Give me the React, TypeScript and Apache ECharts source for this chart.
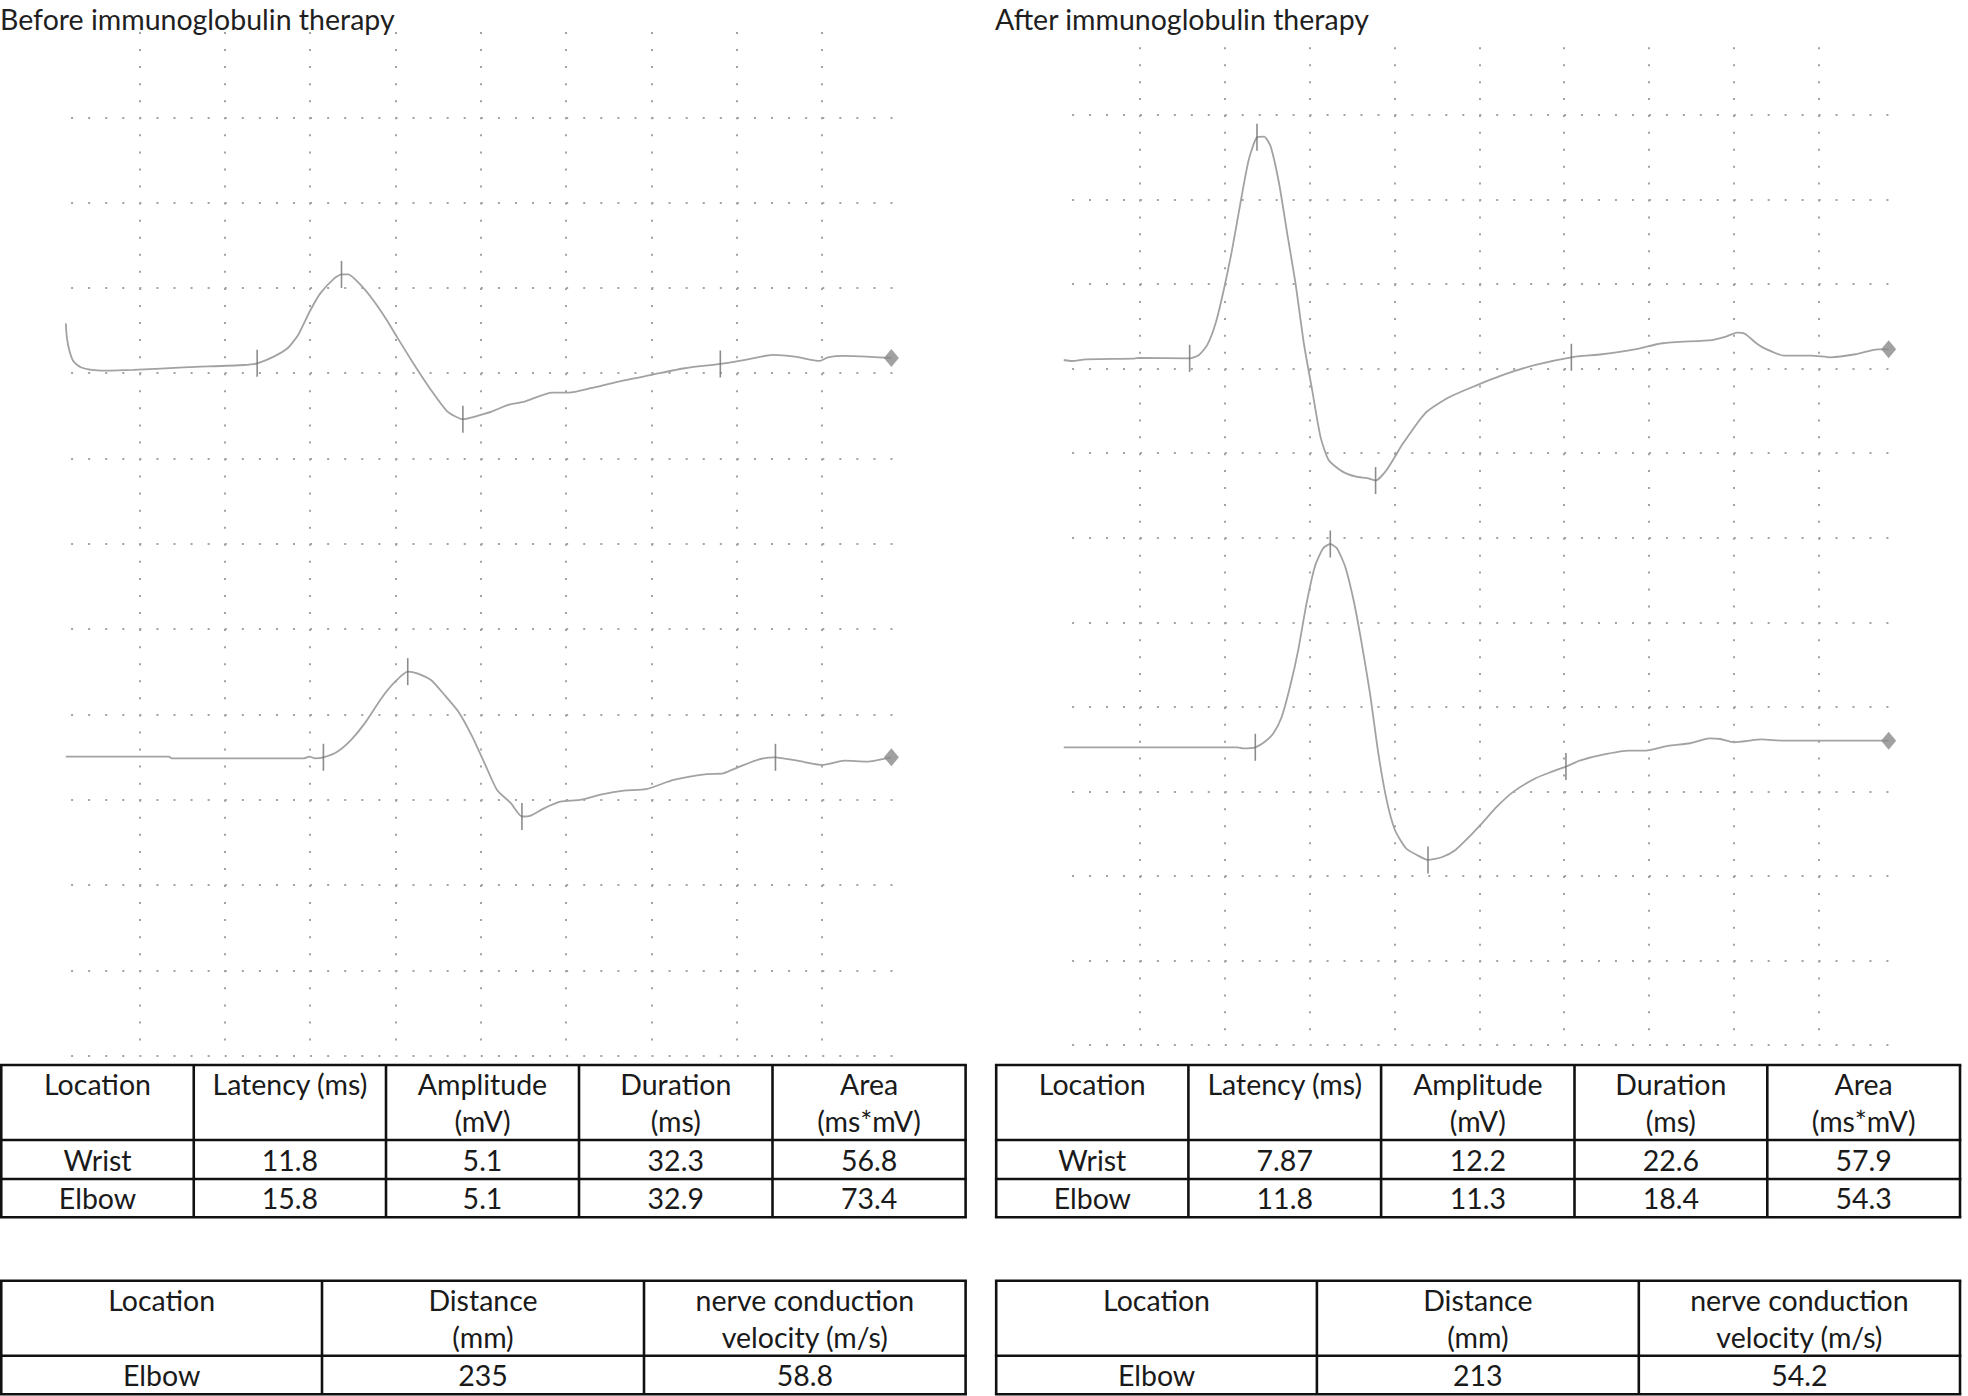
import React, { useEffect, useRef } from "react";
import * as echarts from "echarts";

const W = 1968;
const H = 1396;

// ---------- data ----------
const panelTitles = ["Before immunoglobulin therapy", "After immunoglobulin therapy"];
const sweepMs = [0, 50];
const msPerDiv = 5;
const mvPerDiv = 5;

// traces: [time (ms), amplitude (mV) relative to the trace baseline]
const beforeWrist: [number, number][] = [
  [0.69, 2.34], [0.76, 1.46], [0.92, 0.68], [1.15, 0.1], [1.57, -0.23], [2.21, -0.39], [3.02, -0.43],
  [4.63, -0.39], [7.87, -0.23], [11.1, -0.1], [11.9, 0], [12.87, 0.39], [13.68, 0.88], [14.3, 1.66],
  [14.97, 3.02], [15.6, 4.1], [16.42, 4.98], [16.84, 5.21], [17.23, 5.21], [17.88, 4.68], [18.69, 3.71],
  [19.49, 2.54], [20.14, 1.46], [21.11, -0.1], [22.08, -1.56], [23.05, -2.83], [23.95, -3.28],
  [24.66, -3.12], [25.63, -2.83], [26.6, -2.44], [27.57, -2.24], [29.18, -1.72], [30.15, -1.72],
  [31.44, -1.46], [33.06, -1.07], [35.0, -0.68], [36.94, -0.29], [39.03, -0.04], [40.49, 0.2],
  [42.1, 0.49], [43.4, 0.39], [44.85, 0.14], [45.33, 0.35], [46.3, 0.43], [47.6, 0.39], [49.05, 0.31],
];
const beforeWristMarks: [number, number][] = [[11.9, 0], [16.84, 5.21], [23.95, -3.28], [39.03, -0.04]];

const beforeElbow: [number, number][] = [
  [0.69, 0.04], [6.73, 0.04], [6.9, -0.06], [14.65, -0.06], [14.97, 0.04], [15.29, -0.06], [15.78, 0],
  [16.59, 0.33], [17.39, 1.01], [18.2, 1.99], [19.17, 3.45], [19.98, 4.43], [20.72, 5.02], [21.27, 4.92],
  [22.08, 4.53], [22.88, 3.65], [23.69, 2.67], [24.5, 1.21], [25.31, -0.55], [25.95, -1.91], [26.76, -2.69],
  [27.41, -3.47], [27.89, -3.43], [28.7, -2.99], [29.67, -2.6], [30.8, -2.5], [32.09, -2.17], [33.38, -1.95],
  [34.67, -1.87], [36.29, -1.33], [38.23, -0.98], [39.2, -0.94], [40.16, -0.55], [41.3, -0.12], [42.26, 0],
  [43.55, -0.2], [45.0, -0.45], [46.3, -0.2], [47.6, -0.25], [49.05, 0],
];
const beforeElbowMarks: [number, number][] = [[15.78, 0], [20.72, 5.02], [27.41, -3.47], [42.26, 0]];

const afterWrist: [number, number][] = [
  [0.51, -0.1], [1.0, -0.16], [1.81, -0.06], [4.58, -0.02], [4.9, 0.02], [7.93, 0], [8.48, 0.2], [8.97, 0.79],
  [9.46, 2.07], [9.94, 4.04], [10.43, 6.41], [10.92, 9.16], [11.41, 11.73], [11.9, 13.07], [12.32, 13.11],
  [12.71, 12.51], [13.2, 10.35], [13.68, 7.39], [14.17, 4.43], [14.66, 0.89], [15.15, -1.87], [15.64, -4.63],
  [16.12, -6.01], [16.94, -6.7], [17.75, -7.0], [18.4, -7.09], [18.89, -7.23], [19.54, -6.6], [20.51, -5.03],
  [21.81, -3.25], [23.11, -2.36], [24.42, -1.77], [26.37, -0.99], [28.32, -0.39], [30.43, 0.06], [32.22, 0.24],
  [34.17, 0.53], [35.8, 0.89], [38.72, 1.08], [39.54, 1.28], [40.19, 1.52], [40.68, 1.44], [41.33, 0.89],
  [41.81, 0.59], [42.95, 0.16], [44.58, 0.16], [45.72, 0.06], [47.18, 0.24], [48.48, 0.53], [49.13, 0.53],
];
const afterWristMarks: [number, number][] = [[7.93, 0], [11.9, 13.07], [18.89, -7.23], [30.43, 0.06]];

const afterElbow: [number, number][] = [
  [0.51, 0], [10.76, 0], [11.08, -0.06], [11.8, 0], [12.38, 0.34], [12.87, 0.83], [13.36, 1.81], [13.85, 3.59],
  [14.33, 5.75], [14.82, 8.51], [15.31, 10.68], [15.8, 11.77], [16.22, 12.02], [16.61, 11.77], [17.1, 10.68],
  [17.59, 8.71], [18.07, 6.15], [18.56, 3.19], [19.05, -0.35], [19.54, -3.11], [20.03, -4.89], [20.68, -5.97],
  [21.33, -6.37], [21.98, -6.66], [22.79, -6.5], [23.6, -6.07], [24.42, -5.28], [25.07, -4.59], [26.04, -3.51],
  [27.02, -2.62], [28.32, -1.83], [29.29, -1.44], [30.11, -1.14], [30.92, -0.79], [32.22, -0.45], [33.85, -0.2],
  [34.82, -0.2], [36.12, 0.08], [37.42, 0.24], [38.56, 0.53], [39.21, 0.49], [40.02, 0.3], [41.65, 0.47],
  [42.95, 0.39], [45.23, 0.39], [49.13, 0.39],
];
const afterElbowMarks: [number, number][] = [[11.8, 0], [16.22, 12.02], [21.98, -6.66], [30.11, -1.14]];

// tables
const ampHeaders = [["Location"], ["Latency (ms)"], ["Amplitude", "(mV)"], ["Duration", "(ms)"], ["Area", "(ms*mV)"]];
const ampRowLabels = ["Wrist", "Elbow"];
const beforeAmpValues = [["11.8", "5.1", "32.3", "56.8"], ["15.8", "5.1", "32.9", "73.4"]];
const afterAmpValues = [["7.87", "12.2", "22.6", "57.9"], ["11.8", "11.3", "18.4", "54.3"]];
const ncvHeaders = [["Location"], ["Distance", "(mm)"], ["nerve conduction", "velocity (m/s)"]];
const ncvRowLabels = ["Elbow"];
const beforeNcvValues = [["235", "58.8"]];
const afterNcvValues = [["213", "54.2"]];

// ---------- layout / style ----------
const FONT = "Lato, 'Open Sans', sans-serif";
const FS = 28.5;
const TRACE_COLOR = "#a2a2a2";
const MARK_COLOR = "#6f6f6f";
const DOT_COLOR = "#a3a3a3";

const panels = [
  {
    title: panelTitles[0], titleX: 0, left: 54.0, top: 32, divX: 85.36, divY: 85.3, colSkip: 0,
    baselines: [363.3, 757.3],
    traces: [beforeWrist, beforeElbow], marks: [beforeWristMarks, beforeElbowMarks],
    ampX: [1.25, 193.75, 386, 579, 772.5, 965.6], ncvX: [1.25, 322, 644, 965.6],
    amp: beforeAmpValues, ncv: beforeNcvValues,
  },
  {
    title: panelTitles[1], titleX: 995, left: 1055.1, top: 30.4, divX: 84.83, divY: 84.56, colSkip: 1,
    baselines: [358.3, 747.3],
    traces: [afterWrist, afterElbow], marks: [afterWristMarks, afterElbowMarks],
    ampX: [996.2, 1188.4, 1381.1, 1574.5, 1767.3, 1960], ncvX: [996.2, 1316.9, 1638.8, 1960],
    amp: afterAmpValues, ncv: afterNcvValues,
  },
];
const ampRowsY = [1065, 1140, 1179, 1217.3];
const ncvRowsY = [1280.7, 1355.7, 1394.3];

function tableGraphics(xs: number[], ys: number[], headers: string[][], labels: string[], values: string[][]) {
  const els: any[] = [];
  const lw = 2.6;
  ys.forEach((y) => {
    els.push({ type: "line", silent: true, shape: { x1: xs[0] - lw / 2, y1: y, x2: xs[xs.length - 1] + lw / 2, y2: y }, style: { stroke: "#111", lineWidth: lw } });
  });
  xs.forEach((x) => {
    els.push({ type: "line", silent: true, shape: { x1: x, y1: ys[0], x2: x, y2: ys[ys.length - 1] }, style: { stroke: "#111", lineWidth: lw } });
  });
  const txt = (text: string, x: number, y: number) => ({
    type: "text", silent: true, x, y,
    style: { text, textAlign: "center", textVerticalAlign: "middle", fontSize: FS, fontFamily: FONT, fill: "#1a1a1a" },
  });
  headers.forEach((lines, ci) => {
    const cx = (xs[ci] + xs[ci + 1]) / 2;
    lines.forEach((line, li) => els.push(txt(line, cx, ys[0] + 19 + li * 37)));
  });
  labels.forEach((lab, ri) => {
    const cy = (ys[ri + 1] + ys[ri + 2]) / 2;
    const row = [lab, ...values[ri]];
    row.forEach((v, ci) => els.push(txt(v, (xs[ci] + xs[ci + 1]) / 2, cy)));
  });
  return els;
}

function buildOption() {
  const grid: any[] = [];
  const xAxis: any[] = [];
  const yAxis: any[] = [];
  const series: any[] = [];
  const graphic: any[] = [];
  const hidden = { axisLine: { show: false }, axisTick: { show: false }, axisLabel: { show: false } };

  panels.forEach((p) => {
    const gw = 10 * p.divX;
    const gh = 12 * p.divY;
    const pxPerMv = p.divY / mvPerDiv;
    const g0 = grid.length;
    grid.push({ left: p.left, top: p.top, width: gw, height: gh });
    const colTop = p.top + (p.colSkip * p.divY) / 5;
    grid.push({ left: p.left, top: colTop, width: gw, height: p.top + gh - colTop });
    grid.push({ left: p.left + p.divX / 5, top: p.top, width: gw - (2 * p.divX) / 5 + 2.5, height: gh });

    const xData = xAxis.length;
    xAxis.push({ gridIndex: g0, type: "value", min: sweepMs[0], max: sweepMs[1], show: false, splitLine: { show: false } });
    xAxis.push({
      gridIndex: g0 + 1, type: "value", min: sweepMs[0], max: sweepMs[1], interval: msPerDiv, ...hidden,
      splitLine: { show: true, showMinLine: false, showMaxLine: false, lineStyle: { color: DOT_COLOR, width: 2, type: [2, p.divY / 5 - 2] } },
    });
    xAxis.push({ gridIndex: g0 + 2, type: "value", min: 0, max: 1, show: false, splitLine: { show: false } });

    const yBase = yAxis.length;
    p.baselines.forEach((b) => {
      yAxis.push({ gridIndex: g0, type: "value", min: -(p.top + gh - b) / pxPerMv, max: (b - p.top) / pxPerMv, show: false, splitLine: { show: false } });
    });
    yAxis.push({ gridIndex: g0 + 1, type: "value", min: 0, max: 1, show: false, splitLine: { show: false } });
    yAxis.push({
      gridIndex: g0 + 2, type: "value", min: 0, max: 12, interval: 1, inverse: true, ...hidden,
      splitLine: { show: true, showMinLine: false, showMaxLine: true, lineStyle: { color: DOT_COLOR, width: 2, type: [2, p.divX / 5 - 2] } },
    });

    p.traces.forEach((tr, ti) => {
      series.push({
        type: "line", xAxisIndex: xData, yAxisIndex: yBase + ti, data: tr, showSymbol: false, symbol: "none",
        smooth: 0.2, lineStyle: { color: TRACE_COLOR, width: 1.8 }, z: 3, silent: true,
      });
      series.push({
        type: "scatter", xAxisIndex: xData, yAxisIndex: yBase + ti, data: p.marks[ti], symbol: "rect",
        symbolSize: [1.6, 27], itemStyle: { color: MARK_COLOR }, z: 4, silent: true,
      });
      series.push({
        type: "scatter", xAxisIndex: xData, yAxisIndex: yBase + ti, data: [tr[tr.length - 1]], symbol: "diamond",
        symbolSize: [15, 18], itemStyle: { color: "#8a8a8a" }, z: 5, silent: true,
      });
    });

    graphic.push({
      type: "text", silent: true, x: p.titleX, y: 4,
      style: { text: p.title, textAlign: "left", textVerticalAlign: "top", fontSize: FS, fontFamily: FONT, fill: "#1f1f1f" },
    });
    graphic.push(...tableGraphics(p.ampX, ampRowsY, ampHeaders, ampRowLabels, p.amp));
    graphic.push(...tableGraphics(p.ncvX, ncvRowsY, ncvHeaders, ncvRowLabels, p.ncv));
  });

  return { animation: false, backgroundColor: "#ffffff", grid, xAxis, yAxis, series, graphic };
}

export default function App() {
  const ref = useRef<HTMLDivElement>(null);
  useEffect(() => {
    if (!ref.current) return;
    const chart = echarts.init(ref.current, null, { renderer: "svg", width: W, height: H });
    chart.setOption(buildOption() as any);
    return () => chart.dispose();
  }, []);
  return <div ref={ref} style={{ position: "absolute", left: 0, top: 0, width: W, height: H, background: "#fff" }} />;
}
